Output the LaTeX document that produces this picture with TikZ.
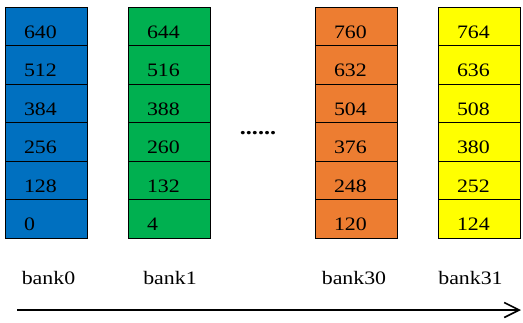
\documentclass[tikz,border=0pt]{standalone}
\usepackage{fontspec}
\setmainfont{Liberation Serif}[FakeStretch=1.15]
\usepackage{xcolor}
\definecolor{bankblue}{HTML}{0070C0}
\definecolor{bankgreen}{HTML}{00B050}
\definecolor{bankorange}{HTML}{ED7D31}
\definecolor{bankyellow}{HTML}{FFFF00}
\usepackage{tikz}
\usetikzlibrary{positioning,arrows.meta}

\begin{document}
\begin{tikzpicture}[x=1pt, y=-1pt, font=\fontsize{19}{22}\selectfont,
  cell/.style={draw=black, line width=0.8pt, minimum width=82pt, minimum height=38.5pt, inner xsep=19pt, inner ysep=0pt, text width=44pt, align=left, text height=24pt, text depth=0pt},
  banklabel/.style={anchor=base},
  arr/.style={-{Straight Barb[length=15pt, width=15pt, line width=1.6pt]}, line width=2pt}]
  \useasboundingbox (0,0) rectangle (523,322);
  % columns of cells, address = 4*bank + 128*row
  \foreach \bn/\x/\c/\lx in {0/5/bankblue/48.5, 1/128/bankgreen/170, 30/315/bankorange/354, 31/438/bankyellow/470.5} {
    \foreach \r in {0,...,5} {
      \pgfmathtruncatemacro{\addr}{4*\bn+128*\r}
      \node[cell, fill=\c] (c\bn-\r) at (\x+41, 218.75-38.5*\r) {\addr};
    }
    \node[banklabel] (bank\bn) at (\lx, 284) {bank\bn};
  }
  \node[anchor=base, font=\fontsize{21}{24}\selectfont\bfseries] (dots) at (258,134.5) {......};
  \coordinate (start) at (17,310);
  \coordinate (end) at (521,310);
  \draw[arr] (start) -- (end);
\end{tikzpicture}
\end{document}
